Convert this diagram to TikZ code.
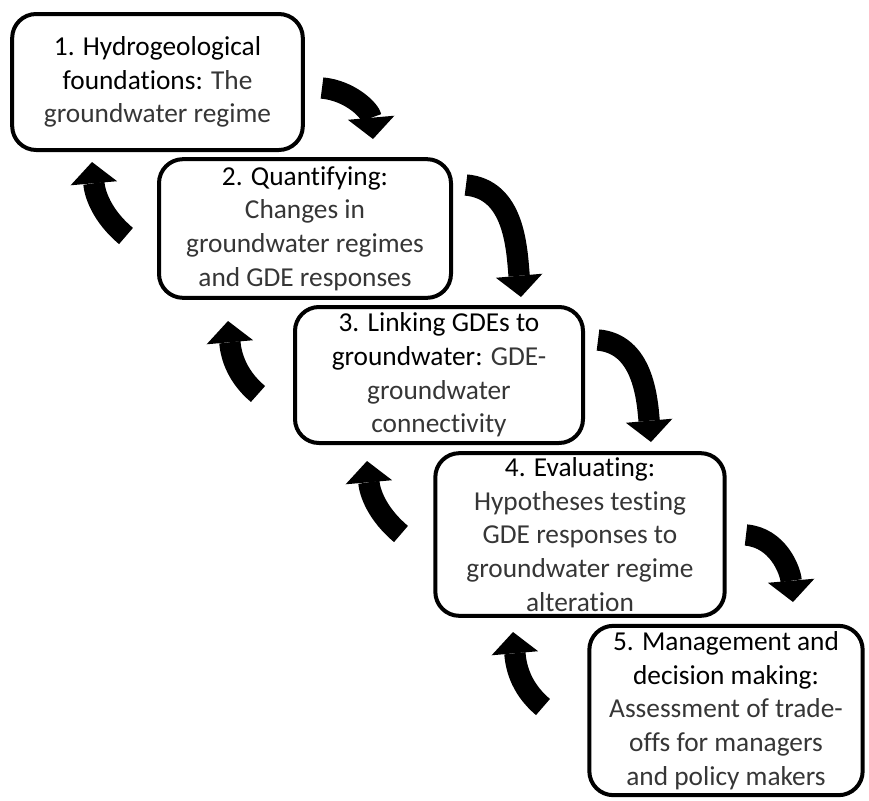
\documentclass[tikz,border=0pt]{standalone}
\usepackage{fontspec}
\setmainfont{Carlito}[Ligatures=NoCommon]
\usepackage{xcolor}
\usepackage{tikz}
\usetikzlibrary{
  arrows.meta
}
\definecolor{GdeInk}{HTML}{000000}
\definecolor{GdeText}{HTML}{363636}
\newcommand{\ttl}[1]{\textcolor{GdeInk}{#1}}
\tikzset{
  every picture/.style = {line join=round},
  stage/.style = {
    draw=GdeInk,
    fill=white,
    line width=3pt,
    rounded corners=18pt,
    align=center,
    inner sep=0pt,
    text=GdeText,
    font=\fontsize{20.5}{25.3}\selectfont
  },
  loop arrow/.style = {
    draw=GdeInk,
    line width=16pt,
    -{Triangle[length=16pt,width=35pt,line width=0pt]}
  },
  loop down/.style = {loop arrow, out=-5, in=95},
  loop up/.style = {loop arrow, out=140, in=-85},
}

\begin{document}
\begin{tikzpicture}[x=7.5pt,y=7.5pt]
  \useasboundingbox (0,0) rectangle (86.9,-80.1);

  \node[stage, minimum width=218pt, minimum height=102pt] (hydro) at (15.75,-8.20)
    {\ttl{1. Hydrogeological}\\ \ttl{foundations:} The\\ groundwater regime};
  \node[stage, minimum width=219pt, minimum height=104pt] (quant) at (30.50,-22.85)
    {\ttl{2. Quantifying:}\\ Changes in\\ groundwater regimes\\ and GDE responses};
  \node[stage, minimum width=216pt, minimum height=102pt] (link) at (43.90,-37.50)
    {\ttl{3. Linking GDEs to}\\ \ttl{groundwater:} GDE-\\ groundwater\\ connectivity};
  \node[stage, minimum width=217pt, minimum height=122pt] (eval) at (58.00,-53.45)
    {\ttl{4. Evaluating:}\\ Hypotheses testing\\ GDE responses to\\ groundwater regime\\ alteration};
  \node[stage, minimum width=205pt, minimum height=127pt] (manage) at (72.60,-71.05)
    {\ttl{5. Management and}\\ \ttl{decision making:}\\ Assessment of trade-\\ offs for managers\\ and policy makers};

  % arrows going down the staircase
  \coordinate (down1 tail) at (32.2,-8.8);
  \coordinate (down1 tip)  at (37.3,-13.9);
  \coordinate (down2 tail) at (46.6,-18.5);
  \coordinate (down2 tip)  at (52.1,-29.7);
  \coordinate (down3 tail) at (59.8,-34.0);
  \coordinate (down3 tip)  at (65.1,-44.2);
  \coordinate (down4 tail) at (74.6,-53.5);
  \coordinate (down4 tip)  at (79.3,-60.2);

  % arrows going back up
  \coordinate (up1 tail) at (12.6,-23.6);
  \coordinate (up1 tip)  at (9.2,-16.2);
  \coordinate (up2 tail) at (25.8,-39.4);
  \coordinate (up2 tip)  at (22.8,-32.1);
  \coordinate (up3 tail) at (40.1,-53.4);
  \coordinate (up3 tip)  at (36.7,-46.1);
  \coordinate (up4 tail) at (54.3,-70.7);
  \coordinate (up4 tip)  at (51.3,-63.2);

  \foreach \i in {1,...,4} {
    \draw[loop down] (down\i\space tail) to (down\i\space tip);
    \draw[loop up] (up\i\space tail) to (up\i\space tip);
  }
\end{tikzpicture}
\end{document}
